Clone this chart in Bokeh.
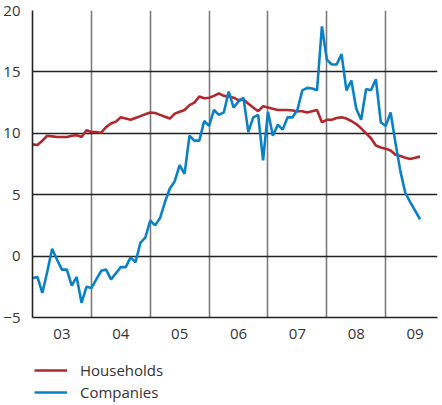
from bokeh.plotting import figure
from bokeh.layouts import column
from bokeh.models import Range1d, FixedTicker, Legend, LegendItem, ColumnDataSource
from bokeh.embed import file_html
from bokeh.resources import INLINE

start_year = 2003
households = [9.1, 9.05, 9.4, 9.8, 9.75, 9.7, 9.7, 9.7, 9.8, 9.85, 9.7, 10.25,
              10.1, 10.1, 10.05, 10.5, 10.8, 10.95, 11.3, 11.2, 11.1, 11.25, 11.4, 11.55,
              11.7, 11.65, 11.5, 11.35, 11.2, 11.6, 11.75, 11.9, 12.3, 12.5, 13.0, 12.85,
              12.9, 13.05, 13.25, 13.05, 13.0, 12.9, 12.7, 12.75, 12.4, 12.1, 11.8, 12.2,
              12.1, 12.0, 11.9, 11.9, 11.9, 11.85, 11.8, 11.8, 11.7, 11.8, 11.9, 10.9,
              11.1, 11.1, 11.25, 11.3, 11.2, 11.0, 10.75, 10.4, 10.0, 9.6, 9.0, 8.85,
              8.75, 8.6, 8.25, 8.15, 8.0, 7.9, 8.0, 8.1]
companies = [-1.8, -1.7, -3.0, -1.3, 0.6, -0.3, -1.1, -1.1, -2.4, -1.7, -3.8, -2.5,
             -2.6, -1.9, -1.2, -1.1, -1.9, -1.4, -0.9, -0.9, -0.1, -0.5, 1.1, 1.5,
             2.9, 2.5, 3.1, 4.4, 5.5, 6.1, 7.4, 6.7, 9.8, 9.4, 9.4, 11.0,
             10.6, 11.9, 11.5, 11.7, 13.4, 12.1, 12.6, 12.9, 10.1, 11.3, 11.5, 7.8,
             11.75, 9.8, 10.7, 10.3, 11.3, 11.3, 11.9, 13.5, 13.7, 13.65, 13.5, 18.7,
             16.0, 15.6, 15.6, 16.45, 13.5, 14.3, 12.0, 11.1, 13.6, 13.5, 14.4, 10.9,
             10.6, 11.7, 9.2, 6.9, 5.15, 4.4, 3.7, 3.0]
year_labels = ["03", "04", "05", "06", "07", "08", "09"]
y_ticks = [-5, 0, 5, 10, 15, 20]
series_names = ["Households", "Companies"]
series_colors = ["#b0282e", "#0a80c6"]

t = [start_year + i / 12 for i in range(len(households))]
src = ColumnDataSource(dict(t=t, h=households, c=companies))

FONT = "Open Sans"

p = figure(width=440, height=347, output_backend="svg", toolbar_location=None,
           x_range=Range1d(2003.0, 2009.88), y_range=Range1d(-5, 20),
           min_border_left=32, min_border_top=10, min_border_right=3, min_border_bottom=30)
p.outline_line_color = None

p.line("t", "h", source=src, line_color=series_colors[0], line_width=2.6)
p.line("t", "c", source=src, line_color=series_colors[1], line_width=2.6)

centers = [start_year + i + 0.5 for i in range(len(year_labels))]
p.xaxis.ticker = FixedTicker(ticks=centers)
p.xaxis.major_label_overrides = {c: l for c, l in zip(centers, year_labels)}
p.xgrid.ticker = FixedTicker(ticks=[start_year + i for i in range(1, len(year_labels))])
p.xgrid.grid_line_color = "#7a7a7a"
p.xgrid.grid_line_width = 1.6

p.yaxis.ticker = FixedTicker(ticks=y_ticks)
p.ygrid.ticker = FixedTicker(ticks=y_ticks)
p.ygrid.grid_line_color = "#222222"
p.ygrid.grid_line_width = 1.5

for ax in (p.xaxis[0], p.yaxis[0]):
    ax.major_tick_line_color = None
    ax.minor_tick_line_color = None
    ax.axis_line_color = "#222222"
    ax.axis_line_width = 1.6
    ax.major_label_text_font = FONT
    ax.major_label_text_font_size = "15px"
    ax.major_label_text_color = "#333333"
p.xaxis.major_label_standoff = 5
p.yaxis.major_label_standoff = 6

# legend-only figure below the chart (series drawn out of view, only the legend shows)
lg = figure(width=440, height=55, output_backend="svg", toolbar_location=None,
            x_range=Range1d(0, 1), y_range=Range1d(0, 1),
            min_border_left=0, min_border_right=0, min_border_top=0, min_border_bottom=0)
lg.axis.visible = False
lg.grid.visible = False
lg.outline_line_color = None
items = []
for name, col, key in zip(series_names, series_colors, ["h", "c"]):
    r = lg.line("t", key, source=src, line_color=col, line_width=2.6)
    items.append(LegendItem(label=name, renderers=[r]))
legend = Legend(items=items, location=(2, 0), orientation="vertical",
                margin=0, padding=0, spacing=2,
                glyph_width=33, glyph_height=20, label_height=20, label_standoff=13,
                border_line_alpha=0, background_fill_alpha=0,
                label_text_font=FONT, label_text_font_size="15px", label_text_color="#333333")
lg.add_layout(legend, "center")

layout = column(p, lg, spacing=0)
open("out.html", "w").write(file_html(layout, INLINE))
